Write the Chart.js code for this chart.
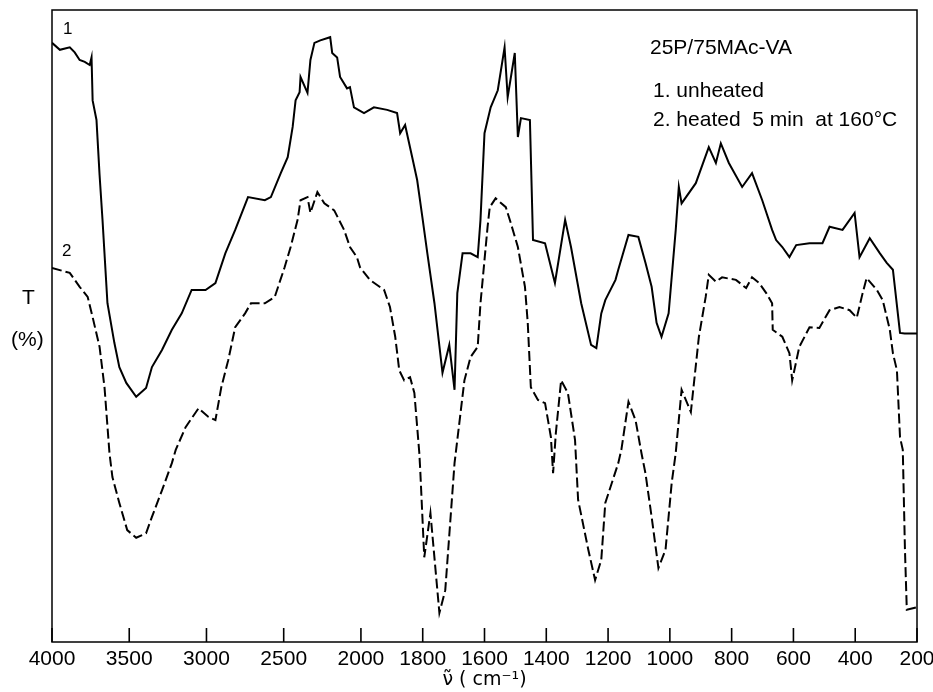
<!DOCTYPE html>
<html>
<head>
<meta charset="utf-8">
<script src="https://cdn.jsdelivr.net/npm/chart.js@4/dist/chart.umd.min.js"></script>
<style>
  html, body { margin: 0; padding: 0; background: #fff; }
</style>
</head>
<body>
<canvas id="irChart" width="933" height="692"></canvas>
<script>
// wavenumber ticks (cm-1); scale is doubled below 2000 like the spectrometer chart paper
const tickWn = [4000, 3500, 3000, 2500, 2000, 1800, 1600, 1400, 1200, 1000, 800, 600, 400, 200];

// curve 1: unheated (solid)
const wn1 = [4000, 3949, 3885, 3853, 3821, 3788, 3756, 3744, 3737, 3712, 3692, 3673, 3641, 3596, 3564, 3519,
  3455, 3391, 3353, 3288, 3224, 3160, 3096, 3006, 2942, 2878, 2814, 2731, 2622, 2583, 2519, 2474, 2442, 2423,
  2397, 2391, 2346, 2327, 2301, 2263, 2199, 2186, 2154, 2135, 2090, 2071, 2045, 1990, 1958, 1915, 1883, 1873,
  1857, 1834, 1818, 1801, 1785, 1762, 1736, 1714, 1697, 1688, 1671, 1645, 1622, 1613, 1600, 1580, 1557, 1535,
  1525, 1502, 1492, 1482, 1453, 1443, 1404, 1372, 1339, 1320, 1287, 1255, 1238, 1222, 1209, 1176, 1167, 1134,
  1102, 1079, 1059, 1043, 1027, 1004, 981, 971, 962, 916, 874, 851, 835, 809, 766, 734, 701, 669, 656, 636,
  613, 591, 548, 506, 483, 441, 402, 386, 353, 320, 298, 278, 255, 240, 200];
const t1 = [94.8, 93.7, 94.1, 93.3, 92.1, 91.8, 91.3, 92.5, 85.7, 82.6, 73.9, 66.8, 53.6, 47.3, 43.5, 41.0,
  38.8, 40.2, 43.5, 46.2, 49.4, 52.0, 55.7, 55.7, 56.8, 61.5, 65.2, 70.4, 69.9, 70.4, 74.2, 76.7, 81.5, 85.7,
  87.0, 89.4, 86.9, 92.1, 94.8, 95.2, 95.7, 93.2, 92.5, 89.4, 87.6, 87.8, 84.6, 83.7, 84.6, 84.2, 83.7, 80.5,
  81.8, 76.7, 73.1, 67.2, 61.5, 53.6, 42.6, 47.0, 39.9, 55.2, 61.5, 61.5, 60.9, 66.8, 80.5, 84.6, 87.3, 94.1,
  86.2, 93.2, 79.9, 82.9, 82.6, 63.6, 63.1, 56.8, 66.8, 62.5, 53.6, 47.0, 46.5, 52.0, 54.1, 57.3, 58.9, 64.4,
  64.1, 60.0, 56.2, 50.5, 48.3, 52.0, 65.2, 72.0, 69.4, 72.6, 78.3, 75.8, 78.9, 75.8, 72.0, 74.2, 69.9, 65.2,
  63.6, 62.5, 60.9, 62.8, 63.1, 63.1, 65.7, 65.2, 67.9, 60.9, 63.9, 61.5, 60.0, 58.9, 48.9, 48.8, 48.8];

// curve 2: heated 5 min at 160 C (dashed)
const wn2 = [4000, 3885, 3821, 3769, 3737, 3692, 3660, 3628, 3609, 3564, 3513, 3455, 3391, 3353, 3288, 3224,
  3199, 3135, 3051, 2987, 2942, 2904, 2859, 2814, 2750, 2712, 2622, 2558, 2494, 2455, 2410, 2391, 2346, 2327,
  2282, 2237, 2173, 2109, 2071, 2026, 2006, 1971, 1925, 1906, 1889, 1876, 1860, 1841, 1827, 1811, 1808, 1795,
  1775, 1746, 1727, 1697, 1665, 1645, 1622, 1613, 1590, 1583, 1564, 1531, 1515, 1492, 1469, 1460, 1450, 1427,
  1404, 1385, 1378, 1369, 1352, 1330, 1307, 1297, 1264, 1242, 1222, 1209, 1167, 1157, 1134, 1111, 1092, 1079,
  1059, 1037, 1014, 994, 981, 962, 932, 906, 884, 874, 851, 831, 786, 753, 734, 711, 688, 669, 667, 636, 613,
  604, 581, 548, 516, 483, 451, 418, 395, 376, 363, 330, 311, 288, 278, 265, 255, 246, 239, 233, 200];
const t2 = [59.2, 58.4, 56.2, 54.6, 51.4, 46.7, 40.3, 29.9, 26.1, 22.0, 17.7, 16.5, 17.2, 19.8, 24.0, 28.3,
  30.4, 34.0, 37.0, 35.6, 35.1, 40.3, 44.6, 49.8, 52.0, 53.6, 53.6, 54.6, 59.3, 62.5, 66.8, 69.9, 70.4, 67.9,
  71.2, 69.4, 68.3, 65.2, 62.5, 60.9, 59.3, 57.3, 55.7, 53.0, 48.3, 43.0, 41.4, 41.9, 39.4, 29.9, 27.2, 13.4,
  20.4, 4.6, 8.2, 28.3, 41.4, 45.1, 46.7, 53.6, 65.7, 68.8, 70.2, 68.8, 66.3, 62.5, 56.2, 50.5, 40.3, 38.3,
  37.8, 32.4, 26.7, 33.1, 41.4, 39.4, 32.0, 22.5, 14.6, 9.8, 13.0, 22.0, 28.3, 30.4, 38.0, 35.1, 29.9, 26.7,
  19.8, 11.7, 14.6, 25.2, 29.9, 39.9, 36.4, 48.3, 54.6, 58.1, 57.0, 57.7, 57.3, 56.0, 57.7, 56.8, 55.2, 53.6,
  49.4, 48.3, 45.7, 41.4, 46.7, 49.8, 49.7, 52.5, 53.0, 52.5, 51.3, 55.2, 57.6, 55.7, 54.1, 49.4, 45.7, 43.0,
  32.4, 30.4, 14.6, 5.1, 5.5];

// 4000-2000 takes half the paper per cm-1 compared with 2000-200
function toU(v) { return v >= 2000 ? (4000 - v) / 2 : 1000 + (2000 - v); }
function toPoints(wn, t) { return wn.map((v, i) => ({ x: toU(v), y: t[i] })); }

const FONT = "'Liberation Sans', Arial, sans-serif";

// frame, inward tick marks and the text labels on the plot
const paperPlugin = {
  id: 'paper',
  afterDraw(chart) {
    const { ctx, chartArea: a, scales } = chart;
    ctx.save();
    ctx.strokeStyle = '#000';
    ctx.lineWidth = 1.5;
    ctx.strokeRect(a.left, a.top, a.right - a.left, a.bottom - a.top);
    ctx.lineWidth = 1.6;
    tickWn.forEach(v => {
      const x = scales.x.getPixelForValue(toU(v));
      ctx.beginPath();
      ctx.moveTo(x, a.bottom);
      ctx.lineTo(x, a.bottom - 14);
      ctx.stroke();
    });
    ctx.fillStyle = '#000';
    ctx.textBaseline = 'alphabetic';
    ctx.textAlign = 'left';
    ctx.font = '17px ' + FONT;
    ctx.fillText('1', 63, 34);
    ctx.fillText('2', 62, 256);
    ctx.font = '21px ' + FONT;
    ctx.fillText('T', 22, 304);
    ctx.fillText('(%)', 11, 346);
    ctx.fillText('25P/75MAc-VA', 650, 54);
    ctx.fillText('1. unheated', 653, 97);
    ctx.fillText('2. heated  5 min  at 160\u00b0C', 653, 126);
    ctx.restore();
  }
};

const ctx = document.getElementById('irChart').getContext('2d');
const irChart = new Chart(ctx, {
  type: 'line',
  data: {
    datasets: [{
      label: '1. unheated',
      data: toPoints(wn1, t1),
      borderColor: '#000',
      borderWidth: 2,
      pointRadius: 0,
      tension: 0
    }, {
      label: '2. heated 5 min at 160\u00b0C',
      data: toPoints(wn2, t2),
      borderColor: '#000',
      borderWidth: 2,
      borderDash: [10, 4],
      pointRadius: 0,
      tension: 0
    }]
  },
  options: {
    responsive: false,
    animation: false,
    layout: { padding: { left: 52, right: 16, top: 10, bottom: 0 } },
    plugins: { legend: { display: false }, tooltip: { enabled: false } },
    scales: {
      x: {
        type: 'linear',
        min: 0,
        max: 2800,
        grid: { display: false, drawTicks: false },
        border: { display: false },
        afterBuildTicks: axis => { axis.ticks = tickWn.map(v => ({ value: toU(v) })); },
        afterFit: axis => { axis.height = 50; axis.paddingLeft = 0; axis.paddingRight = 0; },
        ticks: {
          autoSkip: false,
          maxRotation: 0,
          padding: 5,
          color: '#000',
          font: { family: FONT, size: 21 },
          callback: (value, index) => tickWn[index]
        },
        title: {
          display: true,
          text: '\u03bd\u0303 ( cm\u207b\u00b9)',
          color: '#000',
          font: { family: "'DejaVu Sans', sans-serif", size: 19 },
          padding: { top: 0, bottom: 1 }
        }
      },
      y: {
        display: false,
        min: 0,
        max: 100
      }
    }
  },
  plugins: [paperPlugin]
});
</script>
</body>
</html>
